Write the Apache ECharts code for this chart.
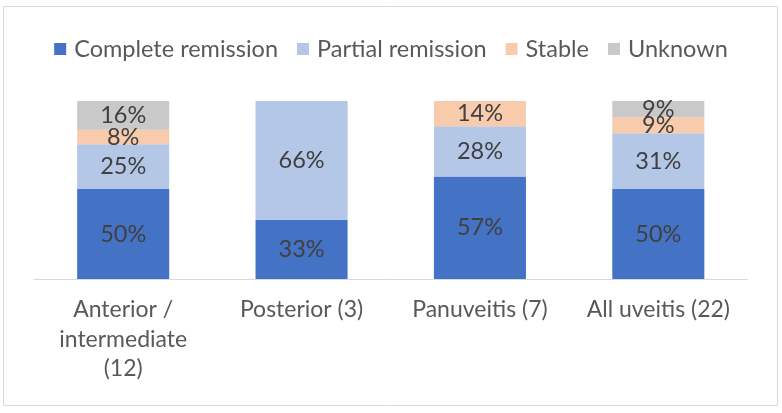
<!DOCTYPE html>
<html>
<head>
<meta charset="utf-8">
<script src="https://cdn.jsdelivr.net/npm/echarts@6/dist/echarts.min.js"></script>
<style>html,body{margin:0;padding:0;background:#fff}#c{width:782px;height:413px}</style>
</head>
<body>
<div id="c"></div>
<script>
var categories = ['Anterior /\nintermediate\n(12)', 'Posterior (3)', 'Panuveitis (7)', 'All uveitis (22)'];
var seriesNames = ['Complete remission', 'Partial remission', 'Stable', 'Unknown'];
var completeRemission = [50, 33, 57, 50];
var partialRemission = [25, 66, 28, 31];
var stable = [8, 0, 14, 9];
var unknown = [16, 0, 0, 9];
var colors = ['#4472C4', '#B4C7E7', '#F8CBAD', '#C9C9C9'];

var all = [completeRemission, partialRemission, stable, unknown];
var totals = categories.map(function (c, i) {
  return all.reduce(function (s, a) { return s + a[i]; }, 0);
});
var FONT = 'Lato';
var series = all.map(function (arr, k) {
  return {
    name: seriesNames[k],
    type: 'bar',
    stack: 'total',
    barCategoryGap: '48.4%',
    itemStyle: { color: colors[k] },
    label: {
      show: true,
      position: 'inside',
      color: '#404040',
      fontFamily: FONT,
      fontSize: 23.5,
      formatter: function (p) { return p.data.shown ? p.data.shown + '%' : ''; }
    },
    data: arr.map(function (v, i) { return { value: v / totals[i] * 100, shown: v }; })
  };
});

var chart = echarts.init(document.getElementById('c'), null, { renderer: 'canvas' });
chart.setOption({
  animation: false,
  graphic: [{
    type: 'rect',
    shape: { x: 3.5, y: 6.5, width: 774, height: 399 },
    style: { fill: 'none', stroke: '#D9D9D9', lineWidth: 1 },
    silent: true
  }],
  legend: {
    top: 32,
    left: 'center',
    icon: 'rect',
    itemWidth: 12,
    itemHeight: 12,
    itemGap: 19,
    textStyle: { color: '#595959', fontFamily: FONT, fontSize: 23.5, padding: [0, 0, 0, 3] },
    data: seriesNames
  },
  grid: { left: 34, right: 34.5, top: 101, bottom: 134, containLabel: false },
  xAxis: {
    type: 'category',
    data: categories,
    axisLine: { lineStyle: { color: '#D9D9D9', width: 1 } },
    axisTick: { show: false },
    axisLabel: { color: '#595959', fontFamily: FONT, fontSize: 23, lineHeight: 29.5, margin: 16, interval: 0 }
  },
  yAxis: {
    type: 'value',
    min: 0,
    max: 100,
    show: false,
    splitLine: { show: false }
  },
  series: series
});
</script>
</body>
</html>
